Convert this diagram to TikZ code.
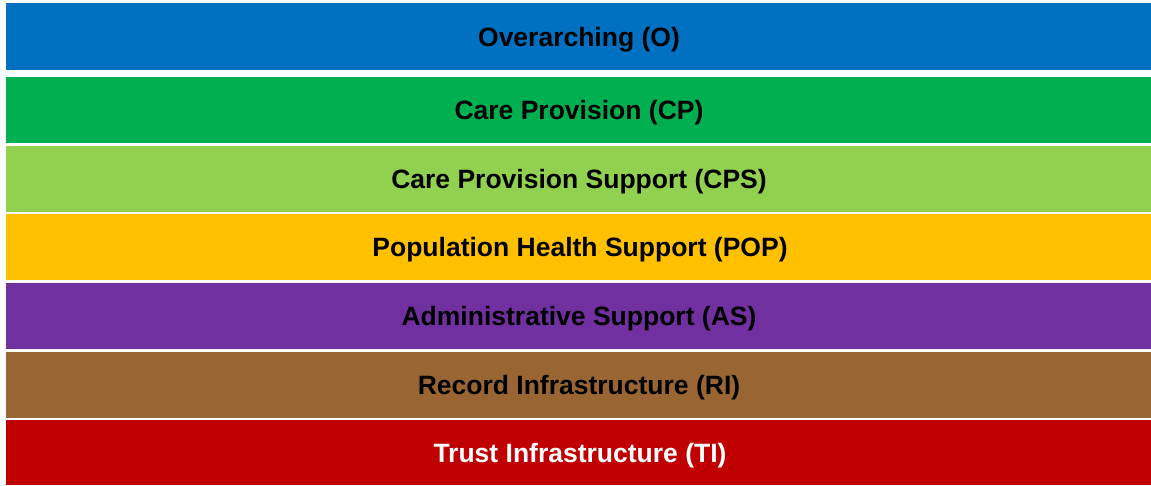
\documentclass[tikz,border=0pt]{standalone}
\usepackage{fontspec}
\setmainfont{Liberation Sans}
\definecolor{cO}{HTML}{0070C0}
\definecolor{cCP}{HTML}{00B050}
\definecolor{cCPS}{HTML}{92D050}
\definecolor{cPOP}{HTML}{FFC000}
\definecolor{cAS}{HTML}{7030A0}
\definecolor{cRI}{HTML}{996633}
\definecolor{cTI}{HTML}{C00000}
\begin{document}
\begin{tikzpicture}[x=1pt,y=-1pt,
  band/.style={draw=none,inner sep=0pt,font=\fontsize{26.5}{30}\selectfont\bfseries,text=black}]
\useasboundingbox[fill=white] (0,0) rectangle (1151,485);
\fill[cO] (6,3) rectangle (1151,70);
\node[band] (O) at (579,39.5) {Overarching (O)};
\fill[cCP] (6,77) rectangle (1151,143);
\node[band] (CP) at (579,113) {Care Provision (CP)};
\fill[cCPS] (6,146) rectangle (1151,212);
\node[band] (CPS) at (579,182) {Care Provision Support (CPS)};
\fill[cPOP] (6,214) rectangle (1151,280);
\node[band] (POP) at (580,250) {Population Health Support (POP)};
\fill[cAS] (6,283) rectangle (1151,349);
\node[band] (AS) at (579,319) {Administrative Support (AS)};
\fill[cRI] (6,352) rectangle (1151,418);
\node[band] (RI) at (579,388) {Record Infrastructure (RI)};
\fill[cTI] (6,420) rectangle (1151,485);
\node[band,text=white] (TI) at (580,455.5) {Trust Infrastructure (TI)};
\end{tikzpicture}
\end{document}
